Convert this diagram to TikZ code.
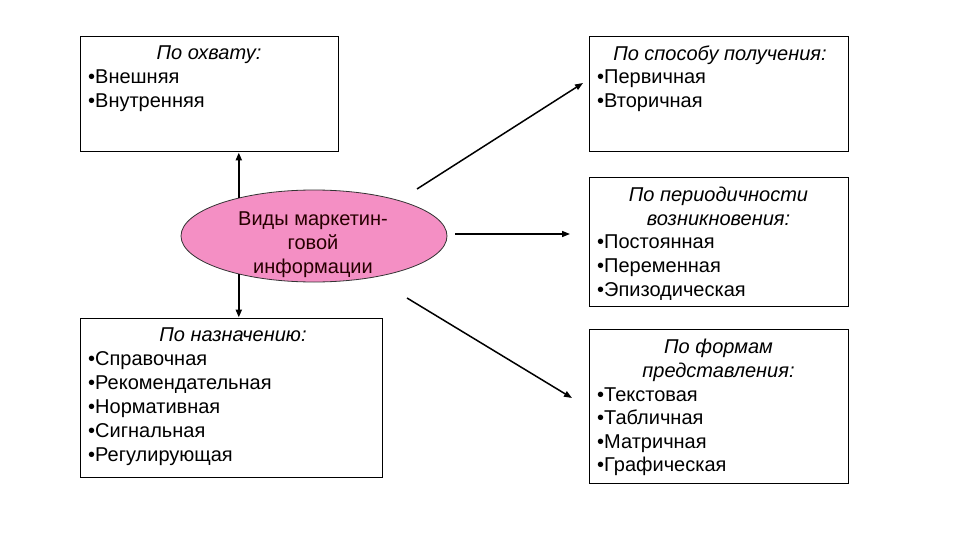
\documentclass[tikz,border=0pt]{standalone}
\usepackage{fontspec}
\setmainfont{Liberation Sans}
\usetikzlibrary{arrows.meta,shapes.geometric}
\definecolor{rozov}{RGB}{244,143,196}
\tikzset{
	ramka/.style={draw, line width=1pt, inner sep=0pt},
	zagol/.style={anchor=north, inner sep=0pt, align=center, font=\fontsize{20}{24}\selectfont\itshape},
	spisok/.style={anchor=north west, inner sep=0pt, align=left, font=\fontsize{20}{24}\selectfont},
	strelka/.style={line width=1.5pt, -{Triangle[length=8pt,width=6pt]}}
}
\begin{document}
		\begin{tikzpicture}[x=1pt,y=-1pt]
			\useasboundingbox (0,0) rectangle (960,540);
			% овал в центре
			\node[ellipse, draw=black!80, fill=rozov, line width=0.8pt, minimum width=266, minimum height=92] (vid) at (314,236) {};
			\node[zagol, font=\fontsize{20}{24}\selectfont, text=black!85!red] (vidT) at (313,212) {Виды маркетин-\\говой\\информации};
			% рамки
			\node[ramka, minimum width=258, minimum height=115] (ohvat) at (209,94.5) {};
			\node[ramka, minimum width=259, minimum height=115] (sposob) at (718.5,94.5) {};
			\node[ramka, minimum width=259, minimum height=128] (period) at (718.5,242) {};
			\node[ramka, minimum width=302, minimum height=159] (naznach) at (231,397.5) {};
			\node[ramka, minimum width=259, minimum height=154] (formy) at (718.5,406) {};
			\node[zagol] (ohvatT) at (209,46) {По охвату:};
			\node[spisok] (ohvatL) at (88,70) {•Внешняя\\•Внутренняя};
			\node[zagol] (sposobT) at (720,46) {По способу получения:};
			\node[spisok] (sposobL) at (597,70) {•Первичная\\•Вторичная};
			\node[zagol] (periodT) at (718.5,187) {По периодичности\\возникновения:};
			\node[spisok] (periodL) at (597,235) {•Постоянная\\•Переменная\\•Эпизодическая};
			\node[zagol] (naznachT) at (233,328) {По назначению:};
			\node[spisok] (naznachL) at (88,351) {•Справочная\\•Рекомендательная\\•Нормативная\\•Сигнальная\\•Регулирующая};
			\node[zagol] (formyT) at (718.5,339) {По формам\\представления:};
			\node[spisok, font=\fontsize{20}{23.5}\selectfont] (formyL) at (597,387.5) {•Текстовая\\•Табличная\\•Матричная\\•Графическая};
			% стрелки
			\draw[strelka, line width=2pt] (vid.153) -- (vid.153 |- ohvat.south);
			\draw[strelka, line width=2pt] (vid.207) -- (vid.207 |- naznach.north);
			\coordinate (a1) at (417,189);
			\coordinate (b1) at (583,83);
			\coordinate (a2) at (455,234);
			\coordinate (b2) at (570,234);
			\coordinate (a3) at (407,298);
			\coordinate (b3) at (572,398);
			\draw[strelka] (a1) -- (b1);
			\draw[strelka] (a2) -- (b2);
			\draw[strelka] (a3) -- (b3);
		\end{tikzpicture}
\end{document}
